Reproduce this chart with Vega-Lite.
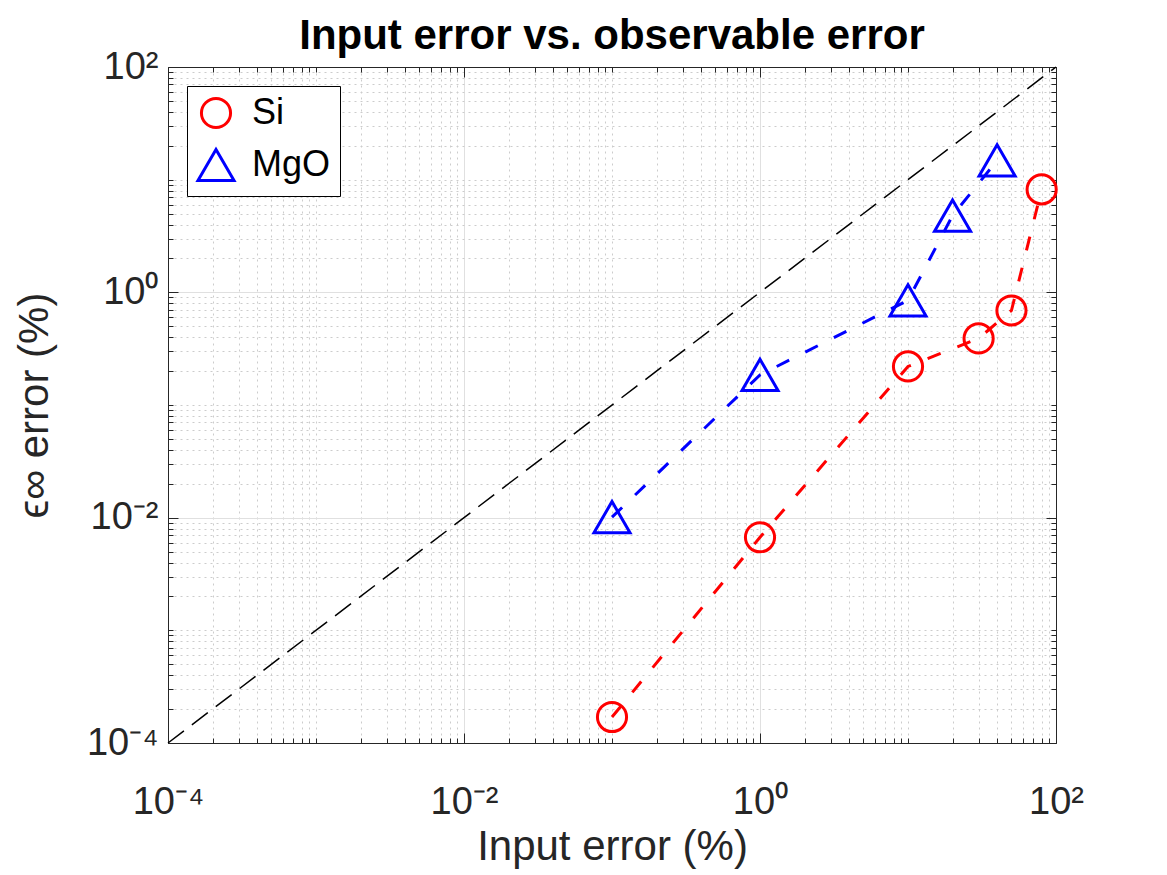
{
  "$schema": "https://vega.github.io/schema/vega-lite/v6.json",
  "width": 888,
  "height": 676,
  "autosize": "none",
  "padding": {"left": 168, "top": 67, "right": 111, "bottom": 132},
  "background": "white",
  "title": {"text": "Input error vs. observable error", "font": "Liberation Sans", "fontSize": 42, "fontWeight": "bold", "color": "black", "anchor": "middle", "offset": -10},
  "data": {"values": [
    {"series": "Si", "input": 0.1, "err": 0.00017},
    {"series": "Si", "input": 1, "err": 0.0067},
    {"series": "Si", "input": 10, "err": 0.22},
    {"series": "Si", "input": 30, "err": 0.39},
    {"series": "Si", "input": 50, "err": 0.69},
    {"series": "Si", "input": 80, "err": 8.2},
    {"series": "MgO", "input": 0.1, "err": 0.0101},
    {"series": "MgO", "input": 1, "err": 0.185},
    {"series": "MgO", "input": 10, "err": 0.85},
    {"series": "MgO", "input": 20, "err": 4.8},
    {"series": "MgO", "input": 40, "err": 14.8}
  ]},
  "layer": [
    {
      "data": {"values": [{"input": 0.0001, "err": 0.0001}, {"input": 100, "err": 100}]},
      "mark": {"type": "line", "color": "black", "strokeWidth": 1.5, "strokeDash": [20, 10]},
      "encoding": {
        "x": {"field": "input", "type": "quantitative", "scale": {"type": "log", "domain": [0.0001, 100], "nice": false}, "title": "Input error (%)",
          "axis": {"orient": "bottom",
            "values": [0.0001,0.0002,0.0003,0.0004,0.0005,0.0006,0.0007,0.0008,0.0009,0.001,0.002,0.003,0.004,0.005,0.006,0.007,0.008,0.009,0.01,0.02,0.03,0.04,0.05,0.06,0.07,0.08,0.09,0.1,0.2,0.3,0.4,0.5,0.6,0.7,0.8,0.9,1,2,3,4,5,6,7,8,9,10,20,30,40,50,60,70,80,90,100],
            "labelExpr": "datum.value==0.0001?'10⁻⁴':datum.value==0.01?'10⁻²':datum.value==1?'10⁰':datum.value==100?'10²':''",
            "labelOverlap": false, "labelFlush": false, "labelFont": "Liberation Sans", "labelFontSize": 38, "labelColor": "#262626", "labelPadding": 50,
            "tickSize": {"condition": {"test": "datum.value==0.0001||datum.value==0.01||datum.value==1||datum.value==100", "value": -10}, "value": -5},
            "tickColor": "#262626", "domainColor": "#262626", "grid": true,
            "gridDash": {"condition": {"test": "datum.value==0.0001||datum.value==0.01||datum.value==1||datum.value==100", "value": []}, "value": [2, 4]},
            "gridColor": {"condition": {"test": "datum.value==0.0001||datum.value==0.01||datum.value==1||datum.value==100", "value": "#e0e0e0"}, "value": "#cccccc"},
            "titleFont": "Liberation Sans", "titleFontSize": 42, "titleFontWeight": "normal", "titleColor": "#262626", "titlePadding": 0}},
        "y": {"field": "err", "type": "quantitative", "scale": {"type": "log", "domain": [0.0001, 100], "nice": false}, "title": "ϵ∞ error (%)",
          "axis": {"orient": "left",
            "values": [0.0001,0.0002,0.0003,0.0004,0.0005,0.0006,0.0007,0.0008,0.0009,0.001,0.002,0.003,0.004,0.005,0.006,0.007,0.008,0.009,0.01,0.02,0.03,0.04,0.05,0.06,0.07,0.08,0.09,0.1,0.2,0.3,0.4,0.5,0.6,0.7,0.8,0.9,1,2,3,4,5,6,7,8,9,10,20,30,40,50,60,70,80,90,100],
            "labelExpr": "datum.value==0.0001?'10⁻⁴':datum.value==0.01?'10⁻²':datum.value==1?'10⁰':datum.value==100?'10²':''",
            "labelOverlap": false, "labelFlush": false, "labelFont": "Liberation Sans", "labelFontSize": 38, "labelColor": "#262626", "labelPadding": 20,
            "tickSize": {"condition": {"test": "datum.value==0.0001||datum.value==0.01||datum.value==1||datum.value==100", "value": -10}, "value": -5},
            "tickColor": "#262626", "domainColor": "#262626", "grid": true,
            "gridDash": {"condition": {"test": "datum.value==0.0001||datum.value==0.01||datum.value==1||datum.value==100", "value": []}, "value": [2, 4]},
            "gridColor": {"condition": {"test": "datum.value==0.0001||datum.value==0.01||datum.value==1||datum.value==100", "value": "#e0e0e0"}, "value": "#cccccc"},
            "titleFont": "Liberation Sans", "titleFontSize": 42, "titleFontWeight": "normal", "titleColor": "#262626", "titlePadding": 30}}
      }
    },
    {
      "mark": {"type": "line", "strokeWidth": 3, "strokeDash": [14, 18]},
      "encoding": {
        "x": {"field": "input", "type": "quantitative", "scale": {"type": "log", "domain": [0.0001, 100], "nice": false},
          "axis": {"orient": "top",
            "values": [0.0001,0.0002,0.0003,0.0004,0.0005,0.0006,0.0007,0.0008,0.0009,0.001,0.002,0.003,0.004,0.005,0.006,0.007,0.008,0.009,0.01,0.02,0.03,0.04,0.05,0.06,0.07,0.08,0.09,0.1,0.2,0.3,0.4,0.5,0.6,0.7,0.8,0.9,1,2,3,4,5,6,7,8,9,10,20,30,40,50,60,70,80,90,100],
            "labels": false, "grid": false, "title": null,
            "tickSize": {"condition": {"test": "datum.value==0.0001||datum.value==0.01||datum.value==1||datum.value==100", "value": -10}, "value": -5},
            "tickColor": "#262626", "domainColor": "#262626"}},
        "y": {"field": "err", "type": "quantitative", "scale": {"type": "log", "domain": [0.0001, 100], "nice": false},
          "axis": {"orient": "right",
            "values": [0.0001,0.0002,0.0003,0.0004,0.0005,0.0006,0.0007,0.0008,0.0009,0.001,0.002,0.003,0.004,0.005,0.006,0.007,0.008,0.009,0.01,0.02,0.03,0.04,0.05,0.06,0.07,0.08,0.09,0.1,0.2,0.3,0.4,0.5,0.6,0.7,0.8,0.9,1,2,3,4,5,6,7,8,9,10,20,30,40,50,60,70,80,90,100],
            "labels": false, "grid": false, "title": null,
            "tickSize": {"condition": {"test": "datum.value==0.0001||datum.value==0.01||datum.value==1||datum.value==100", "value": -10}, "value": -5},
            "tickColor": "#262626", "domainColor": "#262626"}},
        "color": {"field": "series", "type": "nominal", "scale": {"domain": ["Si", "MgO"], "range": ["#ff0000", "#0000ff"]}}
      }
    },
    {
      "mark": {"type": "point", "filled": false, "strokeWidth": 3, "opacity": 1},
      "encoding": {
        "x": {"field": "input", "type": "quantitative", "axis": null},
        "y": {"field": "err", "type": "quantitative", "axis": null},
        "color": {"field": "series", "type": "nominal", "scale": {"domain": ["Si", "MgO"], "range": ["#ff0000", "#0000ff"]}},
        "shape": {"field": "series", "type": "nominal", "scale": {"domain": ["Si", "MgO"], "range": ["circle", "triangle-up"]}},
        "size": {"field": "series", "type": "nominal", "scale": {"domain": ["Si", "MgO"], "range": [850, 1300]}}
      }
    }
  ],
  "resolve": {"axis": {"x": "independent", "y": "independent"}},
  "config": {
    "view": {"stroke": null},
    "font": "Liberation Sans",
    "legend": {"title": null, "orient": "top-left", "offset": 19, "padding": 9, "strokeColor": "black", "fillColor": "white",
      "labelFont": "Liberation Sans", "labelFontSize": 36, "labelColor": "black", "labelOffset": 16, "rowPadding": 9,
      "symbolSize": 2500, "symbolStrokeWidth": 3, "symbolFillColor": "transparent"}
  }
}
